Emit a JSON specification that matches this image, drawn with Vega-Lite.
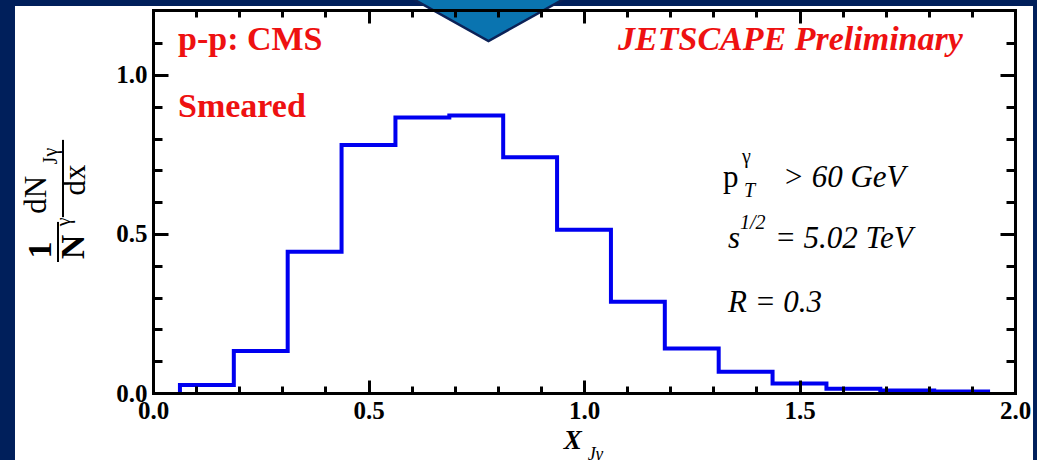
{
  "$schema": "https://vega.github.io/schema/vega-lite/v6.json",
  "width": 862,
  "height": 383,
  "autosize": {"type": "none"},
  "padding": {"left": 153, "top": 10, "right": 22, "bottom": 67},
  "background": "#001f5b",
  "config": {
    "view": {"stroke": null},
    "axis": {"zindex": 2, "grid": false, "domainColor": "black", "domainWidth": 3, "domainCap": "square", "tickColor": "black", "tickWidth": 3, "labelFont": "Liberation Serif", "labelFontSize": 25, "labelFontWeight": "bold", "labelColor": "black", "labelFlush": false, "labelBound": false, "labelOverlap": false},
    "font": "Liberation Serif"
  },
  "resolve": {"axis": {"x": "independent", "y": "independent"}},
  "datasets": {
    "panel": [{"x0": -0.3202, "x1": 2.0418, "y0": -0.25, "y1": 1.217}],
    "arrow": [{"x": 0.7784, "y": 1.2358}],
    "hist": [
      {"o": 0, "x": 0.0625, "y": 0},
      {"o": 1, "x": 0.0625, "y": 0.025},
      {"o": 2, "x": 0.1875, "y": 0.132},
      {"o": 3, "x": 0.3125, "y": 0.444},
      {"o": 4, "x": 0.4375, "y": 0.780},
      {"o": 5, "x": 0.5625, "y": 0.866},
      {"o": 6, "x": 0.6875, "y": 0.873},
      {"o": 7, "x": 0.8125, "y": 0.741},
      {"o": 8, "x": 0.9375, "y": 0.513},
      {"o": 9, "x": 1.0625, "y": 0.287},
      {"o": 10, "x": 1.1875, "y": 0.140},
      {"o": 11, "x": 1.3125, "y": 0.067},
      {"o": 12, "x": 1.4375, "y": 0.030},
      {"o": 13, "x": 1.5625, "y": 0.013},
      {"o": 14, "x": 1.6875, "y": 0.008},
      {"o": 15, "x": 1.8125, "y": 0.005},
      {"o": 16, "x": 1.9375, "y": 0}
    ],
    "redBold": [
      {"t": "p-p: CMS", "x": 0.058, "y": 1.0786},
      {"t": "Smeared", "x": 0.058, "y": 0.868}
    ],
    "redBoldItalic": [
      {"t": "JETSCAPE Preliminary", "x": 1.879, "y": 1.0786}
    ],
    "blackItalic": [
      {"t": "> 60 GeV", "x": 1.4617, "y": 0.6478},
      {"t": "s", "x": 1.334, "y": 0.456},
      {"t": "= 5.02 TeV", "x": 1.443, "y": 0.456},
      {"t": "R = 0.3", "x": 1.334, "y": 0.2547}
    ],
    "blackRegular": [
      {"t": "p", "x": 1.3225, "y": 0.6478}
    ],
    "smallItalic": [
      {"t": "T", "x": 1.371, "y": 0.616},
      {"t": "1/2", "x": 1.362, "y": 0.516}
    ],
    "smallRegular": [
      {"t": "γ", "x": 1.3666, "y": 0.723}
    ],
    "yTitleBold": [
      {"t": "1", "x": -0.260, "y": 0.4497},
      {"t": "N", "x": -0.183, "y": 0.459}
    ],
    "yTitleRegular": [
      {"t": "dN", "x": -0.268, "y": 0.623},
      {"t": "dx", "x": -0.1787, "y": 0.670}
    ],
    "yTitleSmall": [
      {"t": "γ", "x": -0.2065, "y": 0.538},
      {"t": "Jγ", "x": -0.2355, "y": 0.745}
    ],
    "bars": [
      {"x": -0.2204, "y0": 0.412, "y1": 0.538},
      {"x": -0.2088, "y0": 0.553, "y1": 0.796}
    ],
    "xTitle": [{"t": "X", "x": 0.974, "y": -0.151}],
    "xTitleSub": [{"t": "Jγ", "x": 1.026, "y": -0.195}]
  },
  "layer": [
    {
      "data": {"name": "panel"},
      "mark": {"type": "rect", "fill": "white", "zindex": 0},
      "encoding": {
        "x": {"field": "x0", "type": "quantitative", "scale": {"domain": [0, 2], "nice": false, "zero": false}, "axis": null},
        "x2": {"field": "x1"},
        "y": {"field": "y0", "type": "quantitative", "scale": {"domain": [0, 1.2044], "nice": false, "zero": false}, "axis": null},
        "y2": {"field": "y1"}
      }
    },
    {
      "data": {"name": "hist"},
      "mark": {"type": "line", "interpolate": "step-after", "stroke": "#0000f0", "strokeWidth": 4, "strokeJoin": "miter", "zindex": 1},
      "encoding": {
        "order": {"field": "o", "type": "quantitative"},
        "x": {"field": "x", "type": "quantitative", "scale": {"domain": [0, 2], "nice": false, "zero": false},
              "axis": {"orient": "bottom", "title": null, "zindex": 2, "values": [0, 0.5, 1, 1.5, 2], "format": ".1f", "tickSize": -13, "labelPadding": 18, "domain": true}},
        "y": {"field": "y", "type": "quantitative", "scale": {"domain": [0, 1.2044], "nice": false, "zero": false},
              "axis": {"orient": "left", "title": null, "zindex": 2, "values": [0, 0.5, 1], "format": ".1f", "tickSize": -15, "labelPadding": 21, "domain": true}}
      }
    },
    {
      "data": {"name": "redBold"},
      "mark": {"type": "text", "font": "Liberation Serif", "align": "left", "baseline": "alphabetic", "fontSize": 34, "fontWeight": "bold", "fill": "#ee1111", "zindex": 1},
      "encoding": {
        "text": {"field": "t"},
        "x": {"field": "x", "type": "quantitative", "scale": {"domain": [0, 2], "nice": false, "zero": false},
              "axis": {"orient": "bottom", "title": null, "zindex": 2, "values": [0.1, 0.2, 0.3, 0.4, 0.6, 0.7, 0.8, 0.9, 1.1, 1.2, 1.3, 1.4, 1.6, 1.7, 1.8, 1.9], "tickSize": -7, "labels": false, "domain": false}},
        "y": {"field": "y", "type": "quantitative", "scale": {"domain": [0, 1.2044], "nice": false, "zero": false},
              "axis": {"orient": "left", "title": null, "zindex": 2, "values": [0.1, 0.2, 0.3, 0.4, 0.6, 0.7, 0.8, 0.9, 1.1], "tickSize": -9, "labels": false, "domain": false}}
      }
    },
    {
      "data": {"name": "redBoldItalic"},
      "mark": {"type": "text", "font": "Liberation Serif", "align": "right", "baseline": "alphabetic", "fontSize": 34, "fontWeight": "bold", "fontStyle": "italic", "fill": "#ee1111", "zindex": 1},
      "encoding": {
        "text": {"field": "t"},
        "x": {"field": "x", "type": "quantitative", "scale": {"domain": [0, 2], "nice": false, "zero": false},
              "axis": {"orient": "top", "title": null, "zindex": 2, "values": [0, 0.5, 1, 1.5, 2], "tickSize": -13, "labels": false, "domain": true}},
        "y": {"field": "y", "type": "quantitative", "scale": {"domain": [0, 1.2044], "nice": false, "zero": false},
              "axis": {"orient": "right", "title": null, "zindex": 2, "values": [0, 0.5, 1], "tickSize": -15, "labels": false, "domain": true}}
      }
    },
    {
      "data": {"name": "blackItalic"},
      "mark": {"type": "text", "font": "Liberation Serif", "align": "left", "baseline": "alphabetic", "fontSize": 31, "fontStyle": "italic", "fill": "black", "zindex": 1},
      "encoding": {
        "text": {"field": "t"},
        "x": {"field": "x", "type": "quantitative", "scale": {"domain": [0, 2], "nice": false, "zero": false},
              "axis": {"orient": "top", "title": null, "zindex": 2, "values": [0.1, 0.2, 0.3, 0.4, 0.6, 0.7, 0.8, 0.9, 1.1, 1.2, 1.3, 1.4, 1.6, 1.7, 1.8, 1.9], "tickSize": -7, "labels": false, "domain": false}},
        "y": {"field": "y", "type": "quantitative", "scale": {"domain": [0, 1.2044], "nice": false, "zero": false},
              "axis": {"orient": "right", "title": null, "zindex": 2, "values": [0.1, 0.2, 0.3, 0.4, 0.6, 0.7, 0.8, 0.9, 1.1], "tickSize": -9, "labels": false, "domain": false}}
      }
    },
    {
      "data": {"name": "blackRegular"},
      "mark": {"type": "text", "font": "Liberation Serif", "align": "left", "baseline": "alphabetic", "fontSize": 31, "fill": "black", "zindex": 1},
      "encoding": {
        "text": {"field": "t"},
        "x": {"field": "x", "type": "quantitative", "scale": {"domain": [0, 2], "nice": false, "zero": false}, "axis": null},
        "y": {"field": "y", "type": "quantitative", "scale": {"domain": [0, 1.2044], "nice": false, "zero": false}, "axis": null}
      }
    },
    {
      "data": {"name": "smallItalic"},
      "mark": {"type": "text", "font": "Liberation Serif", "align": "left", "baseline": "alphabetic", "fontSize": 20, "fontStyle": "italic", "fill": "black", "zindex": 1},
      "encoding": {
        "text": {"field": "t"},
        "x": {"field": "x", "type": "quantitative", "scale": {"domain": [0, 2], "nice": false, "zero": false}, "axis": null},
        "y": {"field": "y", "type": "quantitative", "scale": {"domain": [0, 1.2044], "nice": false, "zero": false}, "axis": null}
      }
    },
    {
      "data": {"name": "smallRegular"},
      "mark": {"type": "text", "font": "Liberation Serif", "align": "left", "baseline": "alphabetic", "fontSize": 20, "fill": "black", "zindex": 1},
      "encoding": {
        "text": {"field": "t"},
        "x": {"field": "x", "type": "quantitative", "scale": {"domain": [0, 2], "nice": false, "zero": false}, "axis": null},
        "y": {"field": "y", "type": "quantitative", "scale": {"domain": [0, 1.2044], "nice": false, "zero": false}, "axis": null}
      }
    },
    {
      "data": {"name": "yTitleBold"},
      "mark": {"type": "text", "font": "Liberation Serif", "align": "center", "baseline": "middle", "angle": 270, "fontSize": 34, "fontWeight": "bold", "fill": "black", "zindex": 1},
      "encoding": {
        "text": {"field": "t"},
        "x": {"field": "x", "type": "quantitative", "scale": {"domain": [0, 2], "nice": false, "zero": false}, "axis": null},
        "y": {"field": "y", "type": "quantitative", "scale": {"domain": [0, 1.2044], "nice": false, "zero": false}, "axis": null}
      }
    },
    {
      "data": {"name": "yTitleRegular"},
      "mark": {"type": "text", "font": "Liberation Serif", "align": "center", "baseline": "middle", "angle": 270, "fontSize": 31, "fill": "black", "zindex": 1},
      "encoding": {
        "text": {"field": "t"},
        "x": {"field": "x", "type": "quantitative", "scale": {"domain": [0, 2], "nice": false, "zero": false}, "axis": null},
        "y": {"field": "y", "type": "quantitative", "scale": {"domain": [0, 1.2044], "nice": false, "zero": false}, "axis": null}
      }
    },
    {
      "data": {"name": "yTitleSmall"},
      "mark": {"type": "text", "font": "Liberation Serif", "align": "center", "baseline": "middle", "angle": 270, "fontSize": 20, "fill": "black", "zindex": 1},
      "encoding": {
        "text": {"field": "t"},
        "x": {"field": "x", "type": "quantitative", "scale": {"domain": [0, 2], "nice": false, "zero": false}, "axis": null},
        "y": {"field": "y", "type": "quantitative", "scale": {"domain": [0, 1.2044], "nice": false, "zero": false}, "axis": null}
      }
    },
    {
      "data": {"name": "bars"},
      "mark": {"type": "rule", "stroke": "black", "strokeWidth": 2, "zindex": 1},
      "encoding": {
        "x": {"field": "x", "type": "quantitative", "scale": {"domain": [0, 2], "nice": false, "zero": false}, "axis": null},
        "y": {"field": "y0", "type": "quantitative", "scale": {"domain": [0, 1.2044], "nice": false, "zero": false}, "axis": null},
        "y2": {"field": "y1"}
      }
    },
    {
      "data": {"name": "xTitle"},
      "mark": {"type": "text", "font": "Liberation Serif", "align": "center", "baseline": "middle", "fontSize": 27, "fontWeight": "bold", "fontStyle": "italic", "fill": "black", "zindex": 1},
      "encoding": {
        "text": {"field": "t"},
        "x": {"field": "x", "type": "quantitative", "scale": {"domain": [0, 2], "nice": false, "zero": false}, "axis": null},
        "y": {"field": "y", "type": "quantitative", "scale": {"domain": [0, 1.2044], "nice": false, "zero": false}, "axis": null}
      }
    },
    {
      "data": {"name": "xTitleSub"},
      "mark": {"type": "text", "font": "Liberation Serif", "align": "center", "baseline": "middle", "fontSize": 18, "fontStyle": "italic", "fill": "black", "zindex": 1},
      "encoding": {
        "text": {"field": "t"},
        "x": {"field": "x", "type": "quantitative", "scale": {"domain": [0, 2], "nice": false, "zero": false}, "axis": null},
        "y": {"field": "y", "type": "quantitative", "scale": {"domain": [0, 1.2044], "nice": false, "zero": false}, "axis": null}
      }
    },
    {
      "data": {"name": "arrow"},
      "mark": {"type": "point", "shape": "M-1.538,-0.3L1.538,-0.3L0,0.558Z", "size": 21609, "filled": true, "fill": "#0a74b0", "stroke": "#0b2257", "strokeWidth": 2.5, "opacity": 1, "zindex": 3},
      "encoding": {
        "x": {"field": "x", "type": "quantitative", "scale": {"domain": [0, 2], "nice": false, "zero": false}, "axis": null},
        "y": {"field": "y", "type": "quantitative", "scale": {"domain": [0, 1.2044], "nice": false, "zero": false}, "axis": null}
      }
    }
  ]
}
